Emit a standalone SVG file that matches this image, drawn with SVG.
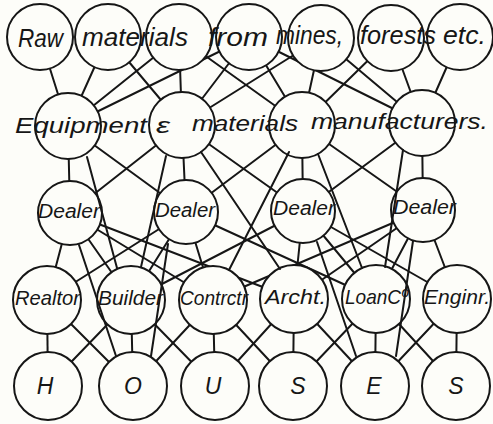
<svg xmlns="http://www.w3.org/2000/svg" width="493" height="424" viewBox="0 0 493 424">
<style>
.bg{fill:#fdfdf9}
.n circle{fill:#fdfdf9;stroke:#161616;stroke-width:2}
.e line{stroke:#161616;stroke-width:2;stroke-linecap:round}
text{font-family:"Liberation Sans","DejaVu Sans",sans-serif;font-style:italic;fill:#161616}
.t1{font-size:26px}
.t2{font-size:22px}
.t3{font-size:20px}
.t4{font-size:21px}
.t5{font-size:23px;text-anchor:middle}
</style>
<rect class="bg" x="0" y="0" width="493" height="424"/>
<g id="connectors" class="e">
<line x1="40" y1="37" x2="68" y2="126"/>
<line x1="108" y1="37" x2="68" y2="126"/>
<line x1="179" y1="37" x2="68" y2="126"/>
<line x1="249" y1="37" x2="68" y2="126"/>
<line x1="108" y1="37" x2="182" y2="125"/>
<line x1="179" y1="37" x2="182" y2="125"/>
<line x1="249" y1="37" x2="182" y2="125"/>
<line x1="321" y1="38" x2="182" y2="125"/>
<line x1="179" y1="37" x2="302" y2="125"/>
<line x1="249" y1="37" x2="302" y2="125"/>
<line x1="321" y1="38" x2="302" y2="125"/>
<line x1="391" y1="38" x2="302" y2="125"/>
<line x1="249" y1="37" x2="422" y2="123"/>
<line x1="321" y1="38" x2="422" y2="123"/>
<line x1="391" y1="38" x2="422" y2="123"/>
<line x1="460" y1="37" x2="422" y2="123"/>
<line x1="68" y1="126" x2="70" y2="213"/>
<line x1="68" y1="126" x2="186" y2="212"/>
<line x1="182" y1="125" x2="70" y2="213"/>
<line x1="182" y1="125" x2="186" y2="212"/>
<line x1="182" y1="125" x2="303" y2="211"/>
<line x1="302" y1="125" x2="186" y2="212"/>
<line x1="302" y1="125" x2="303" y2="211"/>
<line x1="302" y1="125" x2="423" y2="210"/>
<line x1="422" y1="123" x2="303" y2="211"/>
<line x1="422" y1="123" x2="423" y2="210"/>
<line x1="70" y1="213" x2="47" y2="300"/>
<line x1="70" y1="213" x2="131" y2="300"/>
<line x1="70" y1="213" x2="213" y2="300"/>
<line x1="70" y1="213" x2="294" y2="299"/>
<line x1="186" y1="212" x2="47" y2="300"/>
<line x1="186" y1="212" x2="131" y2="300"/>
<line x1="186" y1="212" x2="213" y2="300"/>
<line x1="186" y1="212" x2="376" y2="299"/>
<line x1="303" y1="211" x2="131" y2="300"/>
<line x1="303" y1="211" x2="294" y2="299"/>
<line x1="303" y1="211" x2="376" y2="299"/>
<line x1="303" y1="211" x2="457" y2="299"/>
<line x1="423" y1="210" x2="213" y2="300"/>
<line x1="423" y1="210" x2="294" y2="299"/>
<line x1="423" y1="210" x2="376" y2="299"/>
<line x1="423" y1="210" x2="457" y2="299"/>
<line x1="47" y1="300" x2="48" y2="386"/>
<line x1="47" y1="300" x2="133" y2="386"/>
<line x1="131" y1="300" x2="48" y2="386"/>
<line x1="131" y1="300" x2="133" y2="386"/>
<line x1="131" y1="300" x2="215" y2="386"/>
<line x1="213" y1="300" x2="133" y2="386"/>
<line x1="213" y1="300" x2="215" y2="386"/>
<line x1="213" y1="300" x2="293" y2="386"/>
<line x1="294" y1="299" x2="215" y2="386"/>
<line x1="294" y1="299" x2="293" y2="386"/>
<line x1="294" y1="299" x2="375" y2="386"/>
<line x1="376" y1="299" x2="293" y2="386"/>
<line x1="376" y1="299" x2="375" y2="386"/>
<line x1="376" y1="299" x2="456" y2="386"/>
<line x1="457" y1="299" x2="375" y2="386"/>
<line x1="457" y1="299" x2="456" y2="386"/>
</g>
<g id="n-raw" class="n"><circle cx="40" cy="37" r="33"/></g>
<g id="n-materials" class="n"><circle cx="108" cy="37" r="33"/></g>
<g id="n-materials2" class="n"><circle cx="179" cy="37" r="33"/></g>
<g id="n-from" class="n"><circle cx="249" cy="37" r="33"/></g>
<g id="n-mines" class="n"><circle cx="321" cy="38" r="33"/></g>
<g id="n-forests" class="n"><circle cx="391" cy="38" r="33"/></g>
<g id="n-etc" class="n"><circle cx="460" cy="37" r="33"/></g>
<g id="n-eq1" class="n"><circle cx="68" cy="126" r="33"/></g>
<g id="n-eq2" class="n"><circle cx="182" cy="125" r="33"/></g>
<g id="n-eq3" class="n"><circle cx="302" cy="125" r="33"/></g>
<g id="n-eq4" class="n"><circle cx="422" cy="123" r="33"/></g>
<g id="n-dealer1" class="n"><circle cx="70" cy="213" r="32"/></g>
<g id="n-dealer2" class="n"><circle cx="186" cy="212" r="32"/></g>
<g id="n-dealer3" class="n"><circle cx="303" cy="211" r="32"/></g>
<g id="n-dealer4" class="n"><circle cx="423" cy="210" r="32"/></g>
<g id="n-realtor" class="n"><circle cx="47" cy="300" r="34"/></g>
<g id="n-builder" class="n"><circle cx="131" cy="300" r="34"/></g>
<g id="n-contrctr" class="n"><circle cx="213" cy="300" r="34"/></g>
<g id="n-archt" class="n"><circle cx="294" cy="299" r="34"/></g>
<g id="n-loanco" class="n"><circle cx="376" cy="299" r="34"/></g>
<g id="n-enginr" class="n"><circle cx="457" cy="299" r="34"/></g>
<g id="n-h" class="n"><circle cx="48" cy="386" r="34"/></g>
<g id="n-o" class="n"><circle cx="133" cy="386" r="34"/></g>
<g id="n-u" class="n"><circle cx="215" cy="386" r="34"/></g>
<g id="n-s1" class="n"><circle cx="293" cy="386" r="34"/></g>
<g id="n-e" class="n"><circle cx="375" cy="386" r="34"/></g>
<g id="n-s2" class="n"><circle cx="456" cy="386" r="34"/></g>
<g id="skip-connectors" class="e">
<line x1="79" y1="245" x2="116" y2="356"/>
<line x1="168" y1="244" x2="151" y2="356"/>
<line x1="317" y1="242" x2="356" y2="356"/>
<line x1="413" y1="241" x2="396" y2="356"/>
<line x1="87" y1="157" x2="117" y2="268"/>
<line x1="166" y1="156" x2="141" y2="267"/>
<line x1="201" y1="152" x2="280" y2="269"/>
<line x1="289" y1="152" x2="229" y2="270"/>
<line x1="318" y1="154" x2="362" y2="268"/>
<line x1="403" y1="150" x2="385" y2="267"/>
</g>
<g id="labels">
<text class="t1" x="18" y="47" textLength="45" lengthAdjust="spacingAndGlyphs">Raw</text>
<text class="t1" x="82" y="46" textLength="106" lengthAdjust="spacingAndGlyphs">materials</text>
<text class="t1" x="208" y="46" textLength="60" lengthAdjust="spacingAndGlyphs">from</text>
<text class="t1" x="276" y="44" textLength="67" lengthAdjust="spacingAndGlyphs">mines,</text>
<text class="t1" x="360" y="44" textLength="76" lengthAdjust="spacingAndGlyphs">forests</text>
<text class="t1" x="443" y="44" textLength="43" lengthAdjust="spacingAndGlyphs">etc.</text>
<text class="t2" x="15" y="133" textLength="132" lengthAdjust="spacingAndGlyphs">Equipment</text>
<text class="t2" x="156" y="133" textLength="14" lengthAdjust="spacingAndGlyphs">ε</text>
<text class="t2" x="192" y="131" textLength="106" lengthAdjust="spacingAndGlyphs">materials</text>
<text class="t2" x="311" y="129" textLength="177" lengthAdjust="spacingAndGlyphs">manufacturers.</text>
<text class="t3" x="38" y="218" textLength="62" lengthAdjust="spacingAndGlyphs">Dealer</text>
<text class="t3" x="155" y="217" textLength="60" lengthAdjust="spacingAndGlyphs">Dealer</text>
<text class="t3" x="273" y="215" textLength="62" lengthAdjust="spacingAndGlyphs">Dealer</text>
<text class="t3" x="393" y="214" textLength="63" lengthAdjust="spacingAndGlyphs">Dealer</text>
<text class="t4" x="15" y="305" textLength="65" lengthAdjust="spacingAndGlyphs">Realtor</text>
<text class="t4" x="98" y="305" textLength="65" lengthAdjust="spacingAndGlyphs">Builder</text>
<text class="t4" x="180" y="305" textLength="68" lengthAdjust="spacingAndGlyphs">Contrctr</text>
<text class="t4" x="265" y="304" textLength="61" lengthAdjust="spacingAndGlyphs">Archt.</text>
<text class="t4" x="345" y="304" textLength="63" lengthAdjust="spacingAndGlyphs">LoanCº</text>
<text class="t4" x="424" y="304" textLength="66" lengthAdjust="spacingAndGlyphs">Enginr.</text>
<text class="t5" x="45" y="394">H</text>
<text class="t5" x="133" y="394">O</text>
<text class="t5" x="213" y="394">U</text>
<text class="t5" x="298" y="394">S</text>
<text class="t5" x="374" y="394">E</text>
<text class="t5" x="456" y="394">S</text>
</g>
</svg>
